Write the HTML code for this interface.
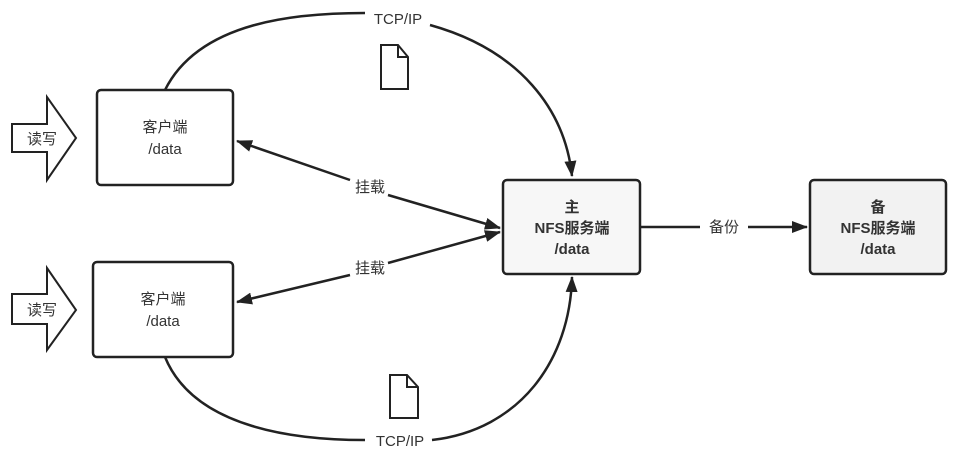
<!DOCTYPE html>
<html><head><meta charset="utf-8"><style>
body{margin:0;background:#fff;}
svg text{font-family:"Liberation Sans","Noto Sans CJK SC",sans-serif;}
</style></head><body>
<svg width="964" height="462" viewBox="0 0 964 462" xmlns="http://www.w3.org/2000/svg">
<defs>
<marker id="a" markerWidth="10" markerHeight="10" refX="9" refY="5" orient="auto" markerUnits="userSpaceOnUse" viewBox="0 0 10 10"><path d="M0,0 L10,5 L0,10 Z" fill="#222"/></marker>
<marker id="b" markerWidth="16" markerHeight="12" refX="15" refY="6" orient="auto" markerUnits="userSpaceOnUse" viewBox="0 0 16 12"><path d="M0,0 L16,6 L0,12 Z" fill="#222"/></marker>
</defs>
<g fill="none" stroke="#222" stroke-width="2.5">
<path d="M165,90 C200,20 300,13 365,13"/>
<path d="M430,25 C520,50 565,110 572,176" marker-end="url(#b)"/>
<path d="M165,357 C195,430 300,440 365,440"/>
<path d="M432,440 C520,430 570,360 572,277" marker-end="url(#b)"/>
<path d="M350,180 L237,141" marker-end="url(#b)"/>
<path d="M388,195 L500,228" marker-end="url(#b)"/>
<path d="M350,275 L237,302" marker-end="url(#b)"/>
<path d="M388,263 L500,232" marker-end="url(#b)"/>
<path d="M641,227 L700,227"/>
<path d="M748,227 L807,227" marker-end="url(#b)"/>
</g>
<g fill="#fff" stroke="#222" stroke-width="2.5">
<rect x="97" y="90" width="136" height="95" rx="4"/>
<rect x="93" y="262" width="140" height="95" rx="4"/>
<rect x="503" y="180" width="137" height="94" rx="4" fill="#f7f7f7"/>
<rect x="810" y="180" width="136" height="94" rx="4" fill="#f2f2f2"/>
<path d="M12,124 L47,124 L47,97 L76,138 L47,180 L47,152 L12,152 Z" stroke-width="2"/>
<path d="M12,294 L47,294 L47,268 L76,310 L47,350 L47,324 L12,324 Z" stroke-width="2"/>
<path d="M381,45 L398,45 L408,57 L408,89 L381,89 Z M398,45 L398,57 L408,57" stroke-width="2"/>
<path d="M390,375 L407,375 L418,387 L418,418 L390,418 Z M407,375 L407,387 L418,387" stroke-width="2"/>
</g>
<g font-size="15" fill="#333" text-anchor="middle">
<text x="398" y="24">TCP/IP</text>
<text x="400" y="446">TCP/IP</text>
<text x="370" y="192">挂载</text>
<text x="370" y="273">挂载</text>
<text x="724" y="232">备份</text>
<text x="42" y="144">读写</text>
<text x="42" y="315">读写</text>
<text x="165" y="132">客户端</text>
<text x="165" y="154">/data</text>
<text x="163" y="304">客户端</text>
<text x="163" y="326">/data</text>
<g font-weight="bold">
<text x="572" y="212">主</text>
<text x="572" y="233">NFS服务端</text>
<text x="572" y="254">/data</text>
<text x="878" y="212">备</text>
<text x="878" y="233">NFS服务端</text>
<text x="878" y="254">/data</text>
</g>
</g>
</svg>
</body></html>
